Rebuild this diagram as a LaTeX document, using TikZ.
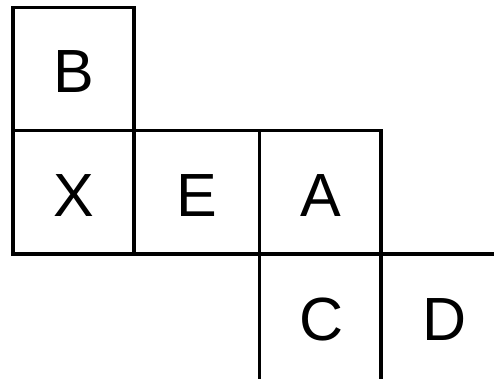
\documentclass[tikz,border=0pt]{standalone}
\usepackage{fontspec}
\setmainfont{Liberation Sans}
\begin{document}
\begin{tikzpicture}[x=1pt,y=-1pt,
  gridline/.style={line width=3.8pt,line cap=rect,black},
  cellletter/.style={anchor=base,inner sep=0pt,font=\fontsize{61}{61}\selectfont}]
\useasboundingbox (0,0) rectangle (494,378);
% horizontal lines
\draw[gridline] (13,7.5) -- (134,7.5);
\draw[gridline] (13,130.5) -- (381,130.5);
\draw[gridline] (13,254) -- (496,254);
% vertical lines
\draw[gridline] (13,7.5) -- (13,254);
\draw[gridline] (134,7.5) -- (134,254);
\draw[gridline] (259.5,130.5) -- (259.5,382);
\draw[gridline] (381,130.5) -- (381,382);
% letters
\node[cellletter] (B) at (74,92.5) {B};
\node[cellletter] (X) at (74,216) {X};
\node[cellletter] (E) at (197,216) {E};
\node[cellletter] (A) at (321,216) {A};
\node[cellletter] (C) at (321.5,340) {C};
\node[cellletter] (D) at (445,340) {D};
\end{tikzpicture}
\end{document}
